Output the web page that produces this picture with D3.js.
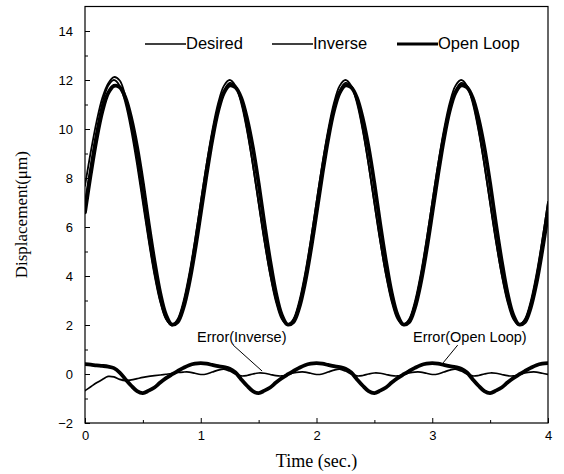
<!DOCTYPE html>
<html>
<head>
<meta charset="utf-8">
<script src="https://cdn.jsdelivr.net/npm/d3@7/dist/d3.min.js"></script>
<style>
  html, body { margin: 0; padding: 0; background: #fff; }
  svg { display: block; }
</style>
</head>
<body>
<svg id="chart" width="564" height="474"></svg>
<script>
// Sampling instants (s), every 0.05 s from 0 to 4 s
const time = d3.range(81).map(i => +(i * 0.05).toFixed(2));

// Displacement (µm)
const desired = [
  7.00, 8.55, 9.94, 11.05, 11.76, 12.00, 11.76, 11.05, 9.94, 8.55, 7.00, 5.45, 4.06, 2.95, 2.24, 2.00, 2.24, 2.95, 4.06, 5.45,
  7.00, 8.55, 9.94, 11.05, 11.76, 12.00, 11.76, 11.05, 9.94, 8.55, 7.00, 5.45, 4.06, 2.95, 2.24, 2.00, 2.24, 2.95, 4.06, 5.45,
  7.00, 8.55, 9.94, 11.05, 11.76, 12.00, 11.76, 11.05, 9.94, 8.55, 7.00, 5.45, 4.06, 2.95, 2.24, 2.00, 2.24, 2.95, 4.06, 5.45,
  7.00, 8.55, 9.94, 11.05, 11.76, 12.00, 11.76, 11.05, 9.94, 8.55, 7.00, 5.45, 4.06, 2.95, 2.24, 2.00, 2.24, 2.95, 4.06, 5.45,
  7.00
];
const inverse = [
  7.68, 9.07, 10.30, 11.27, 11.86, 12.12, 11.98, 11.32, 10.18, 8.74, 7.14, 5.55, 4.13, 2.99, 2.25, 1.98, 2.18, 2.87, 3.98, 5.42,
  7.02, 8.55, 9.86, 10.89, 11.56, 11.88, 11.76, 11.13, 10.00, 8.55, 6.96, 5.42, 4.08, 3.02, 2.32, 2.03, 2.20, 2.87, 3.98, 5.42,
  7.02, 8.55, 9.86, 10.89, 11.56, 11.88, 11.76, 11.13, 10.00, 8.55, 6.96, 5.42, 4.08, 3.02, 2.32, 2.03, 2.20, 2.87, 3.98, 5.42,
  7.02, 8.55, 9.86, 10.89, 11.56, 11.88, 11.76, 11.13, 10.00, 8.55, 6.96, 5.42, 4.08, 3.02, 2.32, 2.03, 2.20, 2.87, 3.98, 5.42,
  7.02
];
const openLoop = [
  6.60, 8.17, 9.59, 10.72, 11.46, 11.76, 11.70, 11.27, 10.42, 9.25, 7.78, 6.13, 4.61, 3.30, 2.41, 2.02, 2.12, 2.70, 3.70, 5.03,
  6.56, 8.13, 9.57, 10.73, 11.48, 11.78, 11.70, 11.27, 10.42, 9.25, 7.78, 6.13, 4.61, 3.30, 2.41, 2.02, 2.12, 2.70, 3.70, 5.03,
  6.56, 8.13, 9.57, 10.73, 11.48, 11.78, 11.70, 11.27, 10.42, 9.25, 7.78, 6.13, 4.61, 3.30, 2.41, 2.02, 2.12, 2.70, 3.70, 5.03,
  6.56, 8.13, 9.57, 10.73, 11.48, 11.78, 11.70, 11.27, 10.42, 9.25, 7.78, 6.13, 4.61, 3.30, 2.41, 2.02, 2.12, 2.70, 3.70, 5.03,
  6.56
];

// Tracking errors (desired - measured), µm
const errorInverse = [
  -0.68, -0.52, -0.36, -0.22, -0.10, -0.12, -0.22, -0.27, -0.24, -0.19, -0.14, -0.10, -0.07, -0.04, -0.01, 0.02, 0.06, 0.08, 0.08, 0.03,
  -0.02, 0.00, 0.08, 0.16, 0.20, 0.12, 0.00, -0.08, -0.06, 0.00, 0.04, 0.03, -0.02, -0.07, -0.08, -0.03, 0.04, 0.08, 0.08, 0.03,
  -0.02, 0.00, 0.08, 0.16, 0.20, 0.12, 0.00, -0.08, -0.06, 0.00, 0.04, 0.03, -0.02, -0.07, -0.08, -0.03, 0.04, 0.08, 0.08, 0.03,
  -0.02, 0.00, 0.08, 0.16, 0.20, 0.12, 0.00, -0.08, -0.06, 0.00, 0.04, 0.03, -0.02, -0.07, -0.08, -0.03, 0.04, 0.08, 0.08, 0.03,
  -0.02
];
const errorOpenLoop = [
  0.40, 0.38, 0.35, 0.33, 0.30, 0.24, 0.06, -0.22, -0.48, -0.70, -0.78, -0.68, -0.55, -0.35, -0.17, -0.02, 0.12, 0.25, 0.36, 0.42,
  0.44, 0.42, 0.37, 0.32, 0.28, 0.22, 0.06, -0.22, -0.48, -0.70, -0.78, -0.68, -0.55, -0.35, -0.17, -0.02, 0.12, 0.25, 0.36, 0.42,
  0.44, 0.42, 0.37, 0.32, 0.28, 0.22, 0.06, -0.22, -0.48, -0.70, -0.78, -0.68, -0.55, -0.35, -0.17, -0.02, 0.12, 0.25, 0.36, 0.42,
  0.44, 0.42, 0.37, 0.32, 0.28, 0.22, 0.06, -0.22, -0.48, -0.70, -0.78, -0.68, -0.55, -0.35, -0.17, -0.02, 0.12, 0.25, 0.36, 0.42,
  0.44
];

const xTicks = [0, 1, 2, 3, 4];
const xMinorTicks = [0.5, 1.5, 2.5, 3.5];
const yTicks = [-2, 0, 2, 4, 6, 8, 10, 12, 14];
const yMinorTicks = [-1, 1, 3, 5, 7, 9, 11, 13];

const legendLabels = ["Desired", "Inverse", "Open Loop"];
const errorLabels = ["Error(Inverse)", "Error(Open Loop)"];

// ---- layout ----
const svg = d3.select("#chart");
const plot = { left: 85, right: 548, top: 6.5, bottom: 423 };

const x = d3.scaleLinear().domain([0, 4]).range([plot.left, plot.right]);
const y = d3.scaleLinear().domain([-2, 15]).range([plot.bottom, plot.top]);

const SANS = "'Liberation Sans', Arial, sans-serif";
const SERIF = "'Liberation Serif', 'Times New Roman', serif";

svg.append("defs").append("clipPath").attr("id", "plot-clip")
  .append("rect")
  .attr("x", plot.left).attr("y", plot.top)
  .attr("width", plot.right - plot.left).attr("height", plot.bottom - plot.top);

// ---- axes (ticks point into the frame) ----
const styleAxis = g => {
  g.select(".domain").remove();
  g.selectAll("line").attr("stroke", "#000").attr("stroke-width", 1);
  g.selectAll("text").attr("fill", "#000").style("font-family", SANS).style("font-size", "13px");
};

svg.append("g")
  .attr("transform", `translate(0,${plot.bottom})`)
  .call(d3.axisBottom(x).tickValues(xTicks).tickFormat(d3.format("d")).tickSize(-5).tickPadding(8))
  .call(styleAxis);
svg.append("g")
  .attr("transform", `translate(0,${plot.bottom})`)
  .call(d3.axisBottom(x).tickValues(xMinorTicks).tickFormat("").tickSize(-3))
  .call(styleAxis);

svg.append("g")
  .attr("transform", `translate(${plot.left},0)`)
  .call(d3.axisLeft(y).tickValues(yTicks).tickFormat(d3.format("d")).tickSize(-5).tickPadding(12))
  .call(styleAxis);
svg.append("g")
  .attr("transform", `translate(${plot.left},0)`)
  .call(d3.axisLeft(y).tickValues(yMinorTicks).tickFormat("").tickSize(-3))
  .call(styleAxis);

// frame
svg.append("rect")
  .attr("x", plot.left).attr("y", plot.top)
  .attr("width", plot.right - plot.left).attr("height", plot.bottom - plot.top)
  .attr("fill", "none").attr("stroke", "#000").attr("stroke-width", 1.2);

// ---- curves ----
const line = d3.line()
  .x((d, i) => x(time[i]))
  .y(d => y(d))
  .curve(d3.curveCatmullRom.alpha(0.5));

const series = [
  { values: openLoop, width: 3.8 },
  { values: desired, width: 1.8 },
  { values: inverse, width: 1.8 },
  { values: errorOpenLoop, width: 3.8 },
  { values: errorInverse, width: 1.7 }
];

const curves = svg.append("g").attr("clip-path", "url(#plot-clip)");
series.forEach(s => {
  curves.append("path")
    .attr("d", line(s.values))
    .attr("fill", "none")
    .attr("stroke", "#000")
    .attr("stroke-width", s.width)
    .attr("stroke-linejoin", "round")
    .attr("stroke-linecap", "round");
});

// ---- legend ----
const legendItems = [
  { label: legendLabels[0], x0: 145, width: 1.3 },
  { label: legendLabels[1], x0: 272, width: 1.3 },
  { label: legendLabels[2], x0: 397, width: 3.2 }
];
const legend = svg.append("g");
legendItems.forEach(it => {
  legend.append("line")
    .attr("x1", it.x0).attr("x2", it.x0 + 41)
    .attr("y1", 44).attr("y2", 44)
    .attr("stroke", "#000").attr("stroke-width", it.width);
  legend.append("text")
    .attr("x", it.x0 + 41).attr("y", 48.5)
    .style("font-family", SANS).style("font-size", "16.5px")
    .attr("fill", "#000")
    .text(it.label);
});

// ---- error annotations with leader lines ----
const notes = [
  { label: errorLabels[0], tx: 0.968, ty: 1.31, from: [1.28, 1.18], to: [1.53, 0.12] },
  { label: errorLabels[1], tx: 2.834, ty: 1.31, from: [3.22, 1.18], to: [3.093, 0.45] }
];
notes.forEach(n => {
  svg.append("text")
    .attr("x", x(n.tx)).attr("y", y(n.ty))
    .style("font-family", SANS).style("font-size", "14.5px")
    .attr("fill", "#000")
    .text(n.label);
  svg.append("line")
    .attr("x1", x(n.from[0])).attr("y1", y(n.from[1]))
    .attr("x2", x(n.to[0])).attr("y2", y(n.to[1]))
    .attr("stroke", "#000").attr("stroke-width", 1);
});

// ---- axis titles ----
svg.append("text")
  .attr("x", (plot.left + plot.right) / 2).attr("y", 467)
  .attr("text-anchor", "middle")
  .style("font-family", SERIF).style("font-size", "18px")
  .attr("fill", "#000")
  .text("Time (sec.)");

svg.append("text")
  .attr("transform", `translate(27,${(plot.top + plot.bottom) / 2}) rotate(-90)`)
  .attr("text-anchor", "middle")
  .style("font-family", SERIF).style("font-size", "17px")
  .attr("fill", "#000")
  .text("Displacement(μm)");
</script>
</body>
</html>
